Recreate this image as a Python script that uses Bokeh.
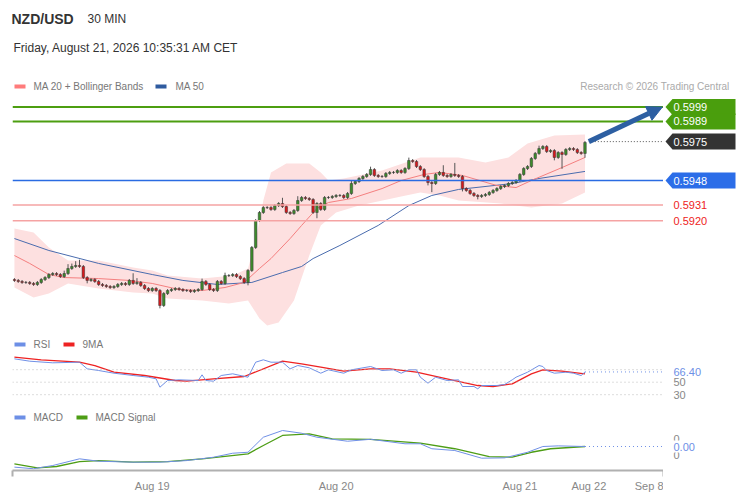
from bokeh.plotting import figure
from bokeh.layouts import column, row
from bokeh.models import (Range1d, FixedTicker, Span, Arrow, NormalHead, ColumnDataSource)
from bokeh.core.properties import value
from bokeh.embed import file_html
from bokeh.resources import INLINE

FONT = "Liberation Sans"

# ---------------- data ----------------
first_open = 0.58792
closes = [
    0.58786, 0.58779, 0.58772, 0.58772, 0.58765, 0.58758, 0.58772, 0.58792, 0.58806, 0.58827,
    0.58834, 0.58827, 0.58813, 0.58834, 0.58869, 0.58883, 0.58890, 0.58883, 0.58806, 0.58786,
    0.58792, 0.58779, 0.58758, 0.58751, 0.58744, 0.58737, 0.58744, 0.58758, 0.58765, 0.58758,
    0.58786, 0.58765, 0.58772, 0.58751, 0.58730, 0.58716, 0.58730, 0.58716, 0.58612, 0.58695,
    0.58716, 0.58723, 0.58730, 0.58723, 0.58716, 0.58716, 0.58709, 0.58716, 0.58723, 0.58779,
    0.58758, 0.58723, 0.58716, 0.58779, 0.58765, 0.58820, 0.58820, 0.58827, 0.58813, 0.58799,
    0.58772, 0.58855, 0.59015, 0.59202, 0.59258, 0.59292, 0.59292, 0.59279, 0.59306, 0.59320,
    0.59299, 0.59258, 0.59251, 0.59272, 0.59341, 0.59362, 0.59355, 0.59348, 0.59258, 0.59320,
    0.59279, 0.59362, 0.59362, 0.59369, 0.59376, 0.59376, 0.59362, 0.59390, 0.59459, 0.59473,
    0.59494, 0.59508, 0.59522, 0.59556, 0.59515, 0.59508, 0.59508, 0.59529, 0.59536, 0.59536,
    0.59549, 0.59536, 0.59563, 0.59619, 0.59612, 0.59577, 0.59556, 0.59508, 0.59466, 0.59459,
    0.59522, 0.59536, 0.59515, 0.59508, 0.59522, 0.59515, 0.59508, 0.59424, 0.59411, 0.59390,
    0.59376, 0.59369, 0.59376, 0.59383, 0.59397, 0.59411, 0.59424, 0.59438, 0.59445, 0.59459,
    0.59466, 0.59480, 0.59522, 0.59563, 0.59577, 0.59633, 0.59668, 0.59702, 0.59716, 0.59681,
    0.59688, 0.59640, 0.59674, 0.59661, 0.59695, 0.59702, 0.59695, 0.59674, 0.59668, 0.59744,
]
# wick extension beyond the body, in pips
wick_hi = [
    1, 1, 1, 1, 1, 1, 1, 1, 1, 1,
    1, 1, 1, 2, 3, 2, 3, 4, 1, 1,
    1, 1, 1, 1, 1, 1, 1, 1, 1, 1,
    1, 5, 3, 1, 1, 1, 1, 1, 1, 1,
    1, 1, 1, 1, 1, 1, 1, 1, 1, 2,
    1, 1, 1, 1, 1, 2, 1, 1, 1, 1,
    1, 1, 1, 1, 1, 1, 1, 1, 1, 1,
    4, 1, 1, 1, 3, 1, 1, 1, 1, 1,
    1, 1, 1, 1, 1, 1, 1, 1, 2, 1,
    1, 1, 1, 2, 1, 1, 1, 1, 1, 1,
    1, 1, 1, 2, 1, 1, 1, 1, 1, 1,
    1, 1, 5, 1, 1, 8, 1, 1, 1, 1,
    1, 1, 1, 1, 1, 1, 1, 1, 1, 1,
    1, 1, 1, 1, 1, 1, 1, 2, 1, 1,
    1, 1, 1, 1, 1, 1, 1, 1, 1, 1,
]
wick_lo = [
    1, 1, 1, 1, 1, 1, 1, 1, 1, 1,
    1, 1, 1, 1, 1, 1, 1, 1, 1, 2,
    1, 1, 1, 1, 1, 1, 1, 1, 1, 1,
    1, 1, 1, 1, 1, 1, 1, 1, 2, 1,
    1, 1, 1, 1, 1, 1, 1, 1, 1, 1,
    1, 1, 1, 1, 1, 1, 1, 1, 1, 1,
    1, 2, 1, 1, 1, 1, 1, 1, 1, 1,
    1, 1, 1, 1, 1, 1, 1, 1, 1, 4,
    1, 1, 1, 1, 1, 1, 1, 1, 1, 1,
    1, 1, 1, 1, 1, 1, 1, 1, 1, 1,
    1, 1, 1, 1, 1, 1, 1, 1, 2, 6,
    1, 1, 1, 1, 1, 1, 1, 2, 1, 1,
    1, 2, 1, 1, 1, 1, 1, 1, 1, 1,
    1, 1, 1, 1, 1, 1, 1, 1, 1, 1,
    1, 2, 1, 10, 1, 1, 1, 1, 1, 3,
]

ma20_idx = [0, 4, 9, 13, 22, 30, 36, 43, 49, 55, 60, 64, 67, 72, 75, 79, 82, 88, 96, 101,
            107, 111, 117, 126, 131, 135, 143, 149]
ma20 = [0.58959, 0.58904, 0.58827, 0.58806, 0.58799, 0.58786, 0.58765, 0.58723, 0.58716, 0.58737,
        0.58772, 0.58869, 0.58938, 0.59077, 0.59168, 0.59286, 0.59327, 0.59355, 0.59424, 0.59480,
        0.59522, 0.59536, 0.59515, 0.59445, 0.59431, 0.59480, 0.59570, 0.59640]

ma50_idx = [0, 9, 22, 36, 44, 53, 62, 70, 75, 78, 85, 95, 103, 109, 116, 130, 137, 149]
ma50 = [0.59077, 0.58994, 0.58904, 0.58827, 0.58786, 0.58758, 0.58772, 0.58841, 0.58883, 0.58938,
        0.59029, 0.59168, 0.59306, 0.59376, 0.59418, 0.59459, 0.59494, 0.59543]

bb_up_idx = [0, 5, 9, 14, 22, 31, 36, 40, 49, 57, 61, 63, 65, 67, 71, 77, 80, 82, 86, 96,
             106, 116, 123, 129, 134, 141, 149]
bb_up = [0.59147, 0.59119, 0.59015, 0.58924, 0.58924, 0.58876, 0.58855, 0.58820, 0.58799, 0.58820,
         0.58869, 0.59063, 0.59341, 0.59536, 0.59598, 0.59598, 0.59536, 0.59480, 0.59494, 0.59549,
         0.59640, 0.59640, 0.59605, 0.59640, 0.59737, 0.59793, 0.59799]
bb_lo_idx = [0, 5, 9, 14, 22, 31, 36, 40, 49, 56, 61, 64, 66, 69, 73, 77, 80, 84, 90, 101,
             106, 111, 116, 127, 135, 143, 149]
bb_lo = [0.58737, 0.58668, 0.58695, 0.58765, 0.58730, 0.58702, 0.58695, 0.58661, 0.58647, 0.58626,
         0.58647, 0.58522, 0.58473, 0.58494, 0.58647, 0.58959, 0.59168, 0.59258, 0.59306, 0.59369,
         0.59397, 0.59376, 0.59341, 0.59320, 0.59293, 0.59320, 0.59397]

rsi_idx = [0, 4, 10, 17, 19, 22, 26, 31, 35, 37, 38, 40, 43, 48, 49, 50, 52, 54, 57, 61,
           63, 65, 67, 70, 72, 74, 77, 80, 82, 86, 88, 93, 96, 99, 101, 103, 105, 106, 108, 110,
           113, 116, 117, 120, 121, 122, 126, 128, 130, 131, 134, 137, 138, 139, 141, 143, 144,
           146, 148, 149]
rsi = [87.4, 83.6, 81.0, 82.0, 71.4, 68.7, 64.4, 60.7, 58.0, 55.4, 42.0, 52.7, 53.8, 52.7, 61.8,
       52.7, 51.6, 60.7, 63.4, 58.0, 82.0, 85.8, 82.0, 82.0, 71.4, 76.7, 73.0, 64.4, 69.8, 64.4,
       69.8, 75.1, 68.7, 69.8, 64.4, 69.8, 69.8, 58.0, 48.4, 58.0, 52.7, 53.8, 43.1, 43.1, 39.4,
       44.7, 44.7, 46.3, 53.8, 58.0, 66.0, 76.7, 75.1, 68.7, 64.4, 65.4, 66.0, 64.4, 60.7, 66.4]
rsi_ma_idx = [0, 7, 17, 21, 26, 34, 42, 45, 52, 60, 70, 75, 80, 86, 93, 98, 105, 115, 121, 125,
              130, 135, 138, 143, 149]
rsi_ma = [90.0, 85.8, 82.0, 76.7, 66.0, 60.7, 52.7, 51.6, 55.4, 59.1, 83.6, 79.4, 74.0, 67.6, 71.4,
          71.4, 66.0, 52.7, 44.7, 43.1, 47.4, 63.4, 69.8, 67.6, 63.4]
rsi_levels = [70, 50, 30]
rsi_level_labels = ["50", "30"]

macd_idx = [0, 5, 10, 17, 22, 31, 38, 45, 52, 57, 61, 65, 70, 75, 79, 87, 93, 102, 106, 109,
            115, 122, 128, 134, 138, 142, 149]
macd = [-0.00129, -0.00139, -0.00119, -0.00077, -0.00092, -0.00098, -0.00098, -0.00088, -0.00067,
        -0.00042, -0.00036, 0.00058, 0.00100, 0.00083, 0.00058, 0.00033, 0.00045, 0.00017, 0.00017,
        -0.00014, -0.00025, -0.00073, -0.00071, -0.00036, 0.0, 0.00004, 0.0]
signal_idx = [0, 6, 11, 17, 22, 31, 40, 49, 61, 65, 70, 77, 83, 93, 106, 115, 124, 130, 135, 140, 149]
signal = [-0.00108, -0.00133, -0.00125, -0.00094, -0.00088, -0.00098, -0.00094, -0.00077, -0.00046,
          0.00006, 0.00069, 0.00079, 0.00048, 0.00045, 0.00021, -0.00014, -0.00063, -0.00067,
          -0.00036, -0.00014, 0.0]
macd_side_ticks = [0.0005, -0.0005]

resistances = [0.5999, 0.5989]
last_price = 0.5975
pivot = 0.5948
supports = [0.5931, 0.5920]

date_ticks = [36, 84, 132, 150, 167.4]
date_labels = ["Aug 19", "Aug 20", "Aug 21", "Aug 22", "Sep 8"]

# ---------------- geometry (page pixels) ----------------
W, H = 738, 500
HEAD_H = 95                    # header strip height
FL, FR, FT, FB = 12, 663, 95, 470   # chart frame edges
X0, X1 = -0.5, 169.5
main_rng = Range1d(0.574661, 0.600703)
rsi_rng = Range1d(-91.28, 508.72)
macd_rng = Range1d(-0.0015, 0.0219375)


def dx(px):
    return X0 + (px - FL) * (X1 - X0) / (FR - FL)


def dy(py, r=main_rng):
    return r.start + (FB - py) * (r.end - r.start) / (FB - FT)


def hpx(n, r=main_rng):
    return n * (r.end - r.start) / (FB - FT)


def tx(fig, x, y, s, size="10px", color="#777777", bold=False, align="left", **kw):
    fig.text(x=[x], y=[y], text=[s], text_font=value(FONT), text_font_size=value(size),
             text_color=color, text_baseline="middle", text_align=align,
             text_font_style="bold" if bold else "normal", **kw)


# ---------------- header ----------------
head = figure(width=W, height=HEAD_H, x_range=Range1d(0, W), y_range=Range1d(HEAD_H, 0),
              x_axis_type=None, y_axis_type=None, output_backend="svg",
              toolbar_location=None, min_border=0)
head.outline_line_color = None
head.grid.visible = False
tx(head, 11, 18, "NZD/USD", size="14px", color="#333333", bold=True)
tx(head, 87, 18, "30 MIN", size="12px", color="#333333")
tx(head, 13, 47, "Friday, August 21, 2026 10:35:31 AM CET", size="12px", color="#333333")
head.quad(left=[14], right=[25], top=[84], bottom=[88], fill_color="#ff7b7b", line_color=None)
tx(head, 33, 86, "MA 20 + Bollinger Bands")
head.quad(left=[155], right=[166], top=[84], bottom=[88], fill_color="#2f5b9f", line_color=None)
tx(head, 175, 86, "MA 50")
tx(head, 729, 86, "Research \u00a9 2026 Trading Central", color="#aaaaaa", align="right")

# ---------------- chart ----------------
p = figure(width=FR, height=H - HEAD_H, x_range=Range1d(X0, X1), y_range=main_rng,
           y_axis_type=None, output_backend="svg", toolbar_location=None,
           min_border_left=FL, min_border_right=0, min_border_top=0,
           min_border_bottom=H - FB)
p.extra_y_ranges = {"rsi": rsi_rng, "macd": macd_rng}
p.outline_line_color = None
p.xgrid.visible = False
p.ygrid.visible = False

ax = p.xaxis[0]
ax.ticker = FixedTicker(ticks=date_ticks, minor_ticks=[X0 + 0.05, X1 - 0.05])
ax.major_label_overrides = {t: l for t, l in zip(date_ticks, date_labels)}
ax.axis_line_color = "#b0b0b0"
ax.axis_line_width = 2
ax.major_tick_line_color = None
ax.major_tick_out = 0
ax.major_tick_in = 0
ax.minor_tick_line_color = "#b0b0b0"
ax.minor_tick_line_width = 2
ax.minor_tick_out = 6
ax.minor_tick_in = 0
ax.major_label_standoff = 3
ax.major_label_text_font = FONT
ax.major_label_text_font_size = "11px"
ax.major_label_text_color = "#888888"

p.patch(bb_up_idx + bb_lo_idx[::-1], bb_up + bb_lo[::-1], fill_color="#fde0e0",
        line_color=None)
p.line(ma50_idx, ma50, line_color="#4a6cae", line_width=1)
p.line(ma20_idx, ma20, line_color="#f47f7f", line_width=1)

opens = [first_open] + closes[:-1]
idx = list(range(len(closes)))
tops = [max(o, c) for o, c in zip(opens, closes)]
bots = [min(o, c) for o, c in zip(opens, closes)]
highs = [t + w * 0.0001 for t, w in zip(tops, wick_hi)]
lows = [b - w * 0.0001 for b, w in zip(bots, wick_lo)]
cols = ["#3d8c2c" if c >= o else "#d7191c" for o, c in zip(opens, closes)]
src = ColumnDataSource(dict(x=idx, top=tops, bottom=bots, high=highs, low=lows, color=cols))
p.segment("x", "low", "x", "high", source=src, line_color="#555555", line_width=1)
p.vbar(x="x", width=0.66, top="top", bottom="bottom", fill_color="color",
       line_color="#333333", line_width=0.5, source=src)

for lv in resistances:
    p.add_layout(Span(location=lv, dimension="width", line_color="#4c9e10", line_width=2))
p.add_layout(Span(location=pivot, dimension="width", line_color="#2a6be2", line_width=1.5))
for lv in supports:
    p.add_layout(Span(location=lv, dimension="width", line_color="#f5a3a3", line_width=1.5))
p.line([idx[-1] + 1, X1], [last_price, last_price], line_color="#555555",
       line_width=1, line_dash="1 2")
p.add_layout(Arrow(end=NormalHead(size=15, fill_color="#2d5fa2", line_color="#2d5fa2"),
                   x_start=idx[-1] + 1, y_start=last_price, x_end=X1 - 0.3,
                   y_end=resistances[0], line_color="#2d5fa2", line_width=5))

# RSI panel
for lv in rsi_levels:
    p.add_layout(Span(location=lv, dimension="width", y_range_name="rsi",
                      line_color="#bbbbbb", line_width=1, line_dash="1 3"))
p.line(rsi_ma_idx, rsi_ma, y_range_name="rsi", line_color="#ee2222", line_width=1.3)
p.line(rsi_idx, rsi, y_range_name="rsi", line_color="#7090e6", line_width=1)
p.line([rsi_idx[-1], X1], [rsi[-1], rsi[-1]], y_range_name="rsi", line_color="#7090e6",
       line_width=1, line_dash="1 3")

# MACD panel
p.line(signal_idx, signal, y_range_name="macd", line_color="#4d9d15", line_width=1.3)
p.line(macd_idx, macd, y_range_name="macd", line_color="#7090e6", line_width=1)
p.line([macd_idx[-1], X1], [macd[-1], macd[-1]], y_range_name="macd", line_color="#7090e6",
       line_width=1, line_dash="1 3")

# panel legends
def swatch(px0, px1, py, color):
    p.quad(left=[dx(px0)], right=[dx(px1)], top=[dy(py - 2)], bottom=[dy(py + 2)],
           fill_color=color, line_color=None)


swatch(14, 25, 344, "#6d8fe6")
tx(p, dx(33), dy(344), "RSI")
swatch(63, 74, 344, "#ee2222")
tx(p, dx(82), dy(344), "9MA")
swatch(14, 25, 417, "#6d8fe6")
tx(p, dx(33), dy(417), "MACD")
swatch(76, 87, 417, "#4d9d15")
tx(p, dx(95), dy(417), "MACD Signal")

# ---------------- right-hand value tags ----------------
side = figure(width=W - FR, height=H - HEAD_H, x_range=Range1d(FR, W), y_range=main_rng,
              x_axis_type=None, y_axis_type=None, output_backend="svg",
              toolbar_location=None, min_border_left=0, min_border_right=0,
              min_border_top=0, min_border_bottom=H - FB)
side.extra_y_ranges = {"rsi": rsi_rng, "macd": macd_rng}
side.outline_line_color = None
side.grid.visible = False


def tag(yv, color, s):
    h = hpx(8)
    side.patch([665, 672, 735, 735, 672], [yv, yv + h, yv + h, yv - h, yv - h],
               fill_color=color, line_color=None)
    tx(side, 673, yv, s, size="11px", color="white")


for lv in resistances:
    tag(lv, "#4a9e0d", f"{lv:.4f}")
tag(last_price, "#333333", f"{last_price:.4f}")
tag(pivot, "#2b6de8", f"{pivot:.4f}")
for lv in supports:
    tx(side, 673, lv, f"{lv:.4f}", size="11px", color="#ee2222")

for lv, lab in zip(rsi_levels[1:], rsi_level_labels):
    tx(side, 673, lv, lab, size="11px", color="#888888", y_range_name="rsi")
h = hpx(5, rsi_rng)
side.quad(left=[670], right=[705], bottom=[rsi[-1] - h], top=[rsi[-1] + h],
          fill_color="white", line_color=None, y_range_name="rsi")
tx(side, 673, rsi[-1], f"{rsi[-1]:.2f}", size="11px", color="#6d8fe6", y_range_name="rsi")

for lv in macd_side_ticks:
    tx(side, 673, lv, "0", size="11px", color="#888888", y_range_name="macd")
h = hpx(6, macd_rng)
side.quad(left=[670], right=[705], bottom=[macd[-1] - h], top=[macd[-1] + h],
          fill_color="white", line_color=None, y_range_name="macd")
tx(side, 673, macd[-1], f"{macd[-1]:.2f}", size="11px", color="#6d8fe6", y_range_name="macd")

layout = column(head, row(p, side))
open("out.html", "w").write(file_html(layout, INLINE))
